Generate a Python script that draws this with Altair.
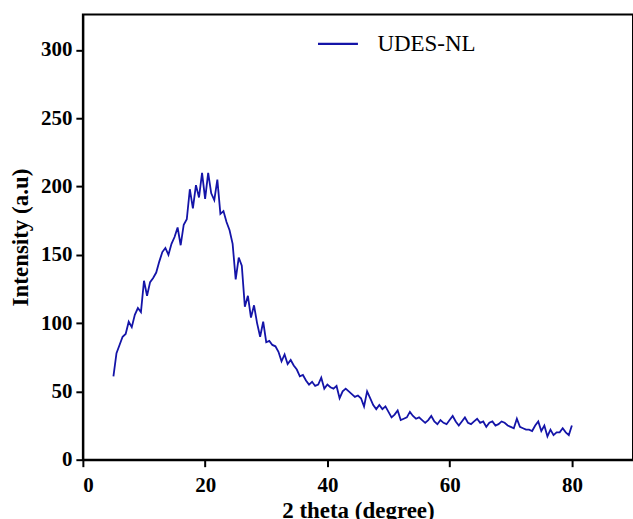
import altair as alt
import pandas as pd

theta = [5.0, 5.5, 6.0, 6.5, 7.0, 7.5, 8.0, 8.5, 9.0, 9.5, 10.0, 10.5, 11.0, 11.5, 12.0, 12.5,
         13.0, 13.5, 14.0, 14.5, 15.0, 15.5, 16.0, 16.5, 17.0, 17.5, 18.0, 18.5, 19.0, 19.5,
         20.0, 20.5, 21.0, 21.5, 22.0, 22.5, 23.0, 23.5, 24.0, 24.5, 25.0, 25.5, 26.0, 26.5,
         27.0, 27.5, 28.0, 28.5, 29.0, 29.5, 30.0, 30.5, 31.0, 31.5, 32.0, 32.5, 33.0, 33.5,
         34.0, 34.5, 35.0, 35.5, 36.0, 36.5, 37.0, 37.5, 38.0, 38.5, 39.0, 39.5, 40.0, 40.5,
         41.0, 41.5, 42.0, 42.5, 43.0, 43.5, 44.0, 44.5, 45.0, 45.5, 46.0, 46.5, 47.0, 47.5,
         48.0, 48.5, 49.0, 49.5, 50.0, 50.5, 51.0, 51.5, 52.0, 52.5, 53.0, 53.5, 54.0, 54.5,
         55.0, 55.5, 56.0, 56.5, 57.0, 57.5, 58.0, 58.5, 59.0, 59.5, 60.0, 60.5, 61.0, 61.5,
         62.0, 62.5, 63.0, 63.5, 64.0, 64.5, 65.0, 65.5, 66.0, 66.5, 67.0, 67.5, 68.0, 68.5,
         69.0, 69.5, 70.0, 70.5, 71.0, 71.5, 72.0, 72.5, 73.0, 73.5, 74.0, 74.5, 75.0, 75.5,
         76.0, 76.5, 77.0, 77.5, 78.0, 78.5, 79.0, 79.5, 80.0]
intensity = [61, 78, 84, 90, 92, 101, 97, 106, 111, 108, 131, 120, 130, 133, 137, 145,
             152, 155, 150, 158, 163, 170, 157, 172, 176, 198, 184, 201, 192, 210,
             191, 210, 195, 190, 205, 180, 182, 174, 168, 158, 132, 148, 142, 112,
             120, 104, 113, 100, 90, 101, 86, 87, 84, 83, 79, 72, 77, 70,
             73, 69, 66, 61, 62, 58, 55, 57, 54, 55, 60, 52, 55, 53,
             52, 54, 45, 50, 52, 50, 48, 46, 47, 45, 39, 50, 45, 40,
             37, 40, 37, 39, 35, 31, 33, 36, 29, 30, 31, 35, 32, 30,
             31, 29, 27, 29, 32, 28, 26, 29, 27, 26, 29, 32, 28, 25,
             28, 31, 27, 26, 28, 30, 27, 28, 24, 27, 28, 25, 26, 28,
             27, 25, 24, 23, 30, 24, 23, 22, 22, 21, 25, 28, 21, 25,
             17, 22, 18, 20, 20, 23, 20, 18, 25]
series = ["UDES-NL"] * len(theta)

df = pd.DataFrame({"theta": theta, "intensity": intensity, "series": series})

font = "Liberation Serif"

chart = alt.Chart(df).mark_line(strokeWidth=1.8).encode(
    x=alt.X("theta:Q",
            scale=alt.Scale(domain=[0, 90], nice=False),
            axis=alt.Axis(title="2 theta (degree)", values=[0, 20, 40, 60, 80],
                          labelPadding=8, titlePadding=4)),
    y=alt.Y("intensity:Q",
            scale=alt.Scale(domain=[0, 326], nice=False),
            axis=alt.Axis(title="Intensity (a.u)", values=[0, 50, 100, 150, 200, 250, 300],
                          labelPadding=4, titlePadding=8)),
    color=alt.Color("series:N",
                    scale=alt.Scale(domain=["UDES-NL"], range=["#1414a8"]),
                    legend=alt.Legend(title=None, orient="none", legendX=234, legendY=8,
                                      symbolType="stroke", symbolSize=1600,
                                      symbolStrokeWidth=2.4, labelFont=font,
                                      labelFontSize=23, labelColor="black",
                                      labelFontWeight="normal", labelOffset=18)),
).properties(
    width=551, height=446,
    autosize=alt.AutoSizeParams(type="none"),
    padding={"left": 83, "top": 14, "right": 0, "bottom": 59},
).configure_view(
    stroke="black", strokeWidth=2
).configure_axis(
    labelFont=font, labelFontSize=21, labelFontWeight="bold", labelColor="black",
    titleFont=font, titleFontSize=23, titleFontWeight="bold", titleColor="black",
    domainColor="black", domainWidth=2, tickColor="black", tickWidth=2, tickSize=7,
    grid=False
)

chart.save("out.html", embed_options={"renderer": "svg", "actions": False})
